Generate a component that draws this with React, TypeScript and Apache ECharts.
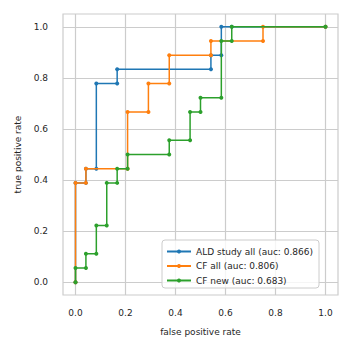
import React, { useEffect, useRef } from "react";
import * as echarts from "echarts";

const aldFpr = [0, 0, 1 / 24, 1 / 24, 2 / 24, 2 / 24, 4 / 24, 4 / 24, 13 / 24, 13 / 24, 14 / 24, 14 / 24, 15 / 24, 1];
const aldTpr = [0, 7 / 18, 7 / 18, 8 / 18, 8 / 18, 14 / 18, 14 / 18, 15 / 18, 15 / 18, 16 / 18, 16 / 18, 1, 1, 1];

const cfAllFpr = [0, 0, 1 / 24, 1 / 24, 5 / 24, 5 / 24, 7 / 24, 7 / 24, 9 / 24, 9 / 24, 13 / 24, 13 / 24, 18 / 24, 18 / 24, 1];
const cfAllTpr = [0, 7 / 18, 7 / 18, 8 / 18, 8 / 18, 12 / 18, 12 / 18, 14 / 18, 14 / 18, 16 / 18, 16 / 18, 17 / 18, 17 / 18, 1, 1];

const cfNewFpr = [0, 0, 1 / 24, 1 / 24, 2 / 24, 2 / 24, 3 / 24, 3 / 24, 4 / 24, 4 / 24, 5 / 24, 5 / 24, 9 / 24, 9 / 24, 11 / 24, 11 / 24, 12 / 24, 12 / 24, 14 / 24, 14 / 24, 15 / 24, 15 / 24, 1];
const cfNewTpr = [0, 1 / 18, 1 / 18, 2 / 18, 2 / 18, 4 / 18, 4 / 18, 7 / 18, 7 / 18, 8 / 18, 8 / 18, 9 / 18, 9 / 18, 10 / 18, 10 / 18, 12 / 18, 12 / 18, 13 / 18, 13 / 18, 17 / 18, 17 / 18, 1, 1];

const seriesNames = ["ALD study all (auc: 0.866)", "CF all (auc: 0.806)", "CF new (auc: 0.683)"];
const colors = ["#1f77b4", "#ff7f0e", "#2ca02c"];
const tickValues = [0, 0.2, 0.4, 0.6, 0.8, 1.0];

const zip = (a: number[], b: number[]) => a.map((v, i) => [v, b[i]]);

export default function App() {
  const ref = useRef<HTMLDivElement>(null);
  useEffect(() => {
    if (!ref.current) return;
    const chart = echarts.init(ref.current, null, { renderer: "svg" });
    const font = "DejaVu Sans";
    const axisCommon = {
      type: "value" as const,
      min: -0.05,
      max: 1.05,
      axisLine: { show: false },
      axisTick: { show: false, customValues: tickValues },
      splitLine: { show: true, lineStyle: { color: "#cccccc", width: 1.2 } },
      nameLocation: "middle" as const,
      nameTextStyle: { color: "#262626", fontFamily: font, fontSize: 9 },
    };
    const datas = [zip(aldFpr, aldTpr), zip(cfAllFpr, cfAllTpr), zip(cfNewFpr, cfNewTpr)];
    chart.setOption({
      animation: false,
      backgroundColor: "#ffffff",
      grid: {
        left: 63,
        top: 14,
        width: 275,
        height: 281,
        show: true,
        borderColor: "#cccccc",
        borderWidth: 1.2,
        backgroundColor: "transparent",
      },
      xAxis: {
        ...axisCommon,
        name: "false positive rate",
        nameGap: 32,
        axisLabel: {
          customValues: tickValues,
          formatter: (v: number) => v.toFixed(1),
          color: "#262626",
          fontFamily: font,
          fontSize: 9,
          margin: 13,
        },
      },
      yAxis: {
        ...axisCommon,
        name: "true positive rate",
        nameGap: 41,
        axisLabel: {
          customValues: tickValues,
          formatter: (v: number) => v.toFixed(1),
          color: "#262626",
          fontFamily: font,
          fontSize: 9,
          margin: 15,
        },
      },
      legend: {
        orient: "vertical",
        left: 162,
        top: 240,
        padding: [6, 6, 2, 4],
        itemWidth: 24,
        itemHeight: 5,
        itemGap: 3.5,
        backgroundColor: "rgba(255,255,255,0.8)",
        borderColor: "#cccccc",
        borderWidth: 1,
        borderRadius: 3,
        textStyle: { color: "#262626", fontFamily: font, fontSize: 9, lineHeight: 11 },
        data: seriesNames,
      },
      series: seriesNames.map((name, i) => ({
        name,
        type: "line",
        data: datas[i],
        color: colors[i],
        symbol: "circle",
        symbolSize: 4,
        showSymbol: true,
        lineStyle: { width: 1.5, color: colors[i] },
        itemStyle: { color: colors[i] },
        z: 2 + i,
      })),
    });
    return () => chart.dispose();
  }, []);
  return <div ref={ref} style={{ width: 352, height: 352, position: "absolute", left: 0, top: 0 }} />;
}
